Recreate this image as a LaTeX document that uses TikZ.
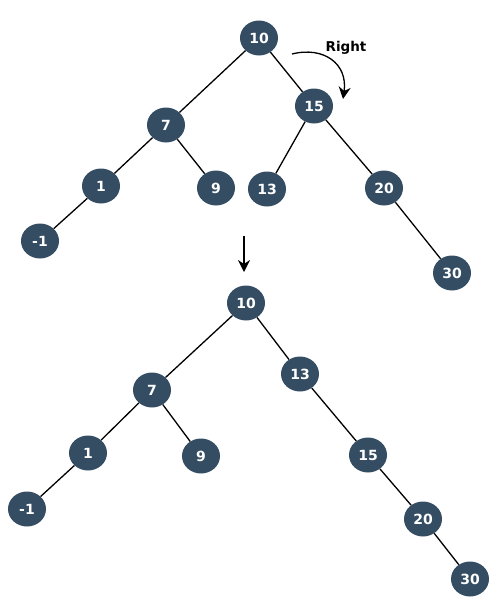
\documentclass[tikz,border=0pt]{standalone}
\usepackage{fontspec}
\setmainfont{DejaVu Sans}
\usetikzlibrary{shapes.geometric,arrows.meta}
\definecolor{nodeblue}{HTML}{344D63}
\begin{document}
\begin{tikzpicture}[x=1pt,y=-1pt,
  tn/.style={ellipse,fill=nodeblue,draw=none,minimum width=38pt,minimum height=35pt,inner sep=0pt,
    text=white,font=\fontsize{14}{16}\selectfont\bfseries},
  edge/.style={draw=black,line width=1.3pt},
  arr/.style={line width=1.3pt,-{Stealth[length=12pt,width=12pt]}}]
\useasboundingbox (0,0) rectangle (502,600);
% top tree
\node[tn] (a10) at (259,38) {10};
\node[tn] (a7) at (166,125) {7};
\node[tn] (a15) at (314,106) {15};
\node[tn] (a1) at (101,186) {1};
\node[tn] (a9) at (216,188) {9};
\node[tn] (a13) at (267,189) {13};
\node[tn] (a20) at (384,188) {20};
\node[tn] (am1) at (40,241) {-1};
\node[tn] (a30) at (452,273) {30};
\draw[edge] (a10) -- (a7);
\draw[edge] (a10) -- (a15);
\draw[edge] (a7) -- (a1);
\draw[edge] (a7) -- (a9);
\draw[edge] (a1) -- (am1);
\draw[edge] (a15) -- (a13);
\draw[edge] (a15) -- (a20);
\draw[edge] (a20) -- (a30);
% rotation arrow
\coordinate (rs) at (292,54);
\coordinate (re) at (343,99);
\draw[arr] (rs) .. controls (324,46) and (348,64) .. (re);
\node[font=\fontsize{13.5}{15}\selectfont\bfseries,anchor=center] (rl) at (346,48) {Right};
% down arrow
\coordinate (ds) at (244,236);
\coordinate (de) at (244,272);
\draw[arr] (ds) -- (de);
% bottom tree
\node[tn] (b10) at (246,303) {10};
\node[tn] (b7) at (152,390) {7};
\node[tn] (b13) at (300,374) {13};
\node[tn] (b1) at (88,453) {1};
\node[tn] (b9) at (201,456) {9};
\node[tn] (b15) at (368,455) {15};
\node[tn] (bm1) at (27,509) {-1};
\node[tn] (b20) at (423,519) {20};
\node[tn] (b30) at (470,579) {30};
\draw[edge] (b10) -- (b7);
\draw[edge] (b10) -- (b13);
\draw[edge] (b7) -- (b1);
\draw[edge] (b7) -- (b9);
\draw[edge] (b1) -- (bm1);
\draw[edge] (b13) -- (b15);
\draw[edge] (b15) -- (b20);
\draw[edge] (b20) -- (b30);
\end{tikzpicture}
\end{document}
